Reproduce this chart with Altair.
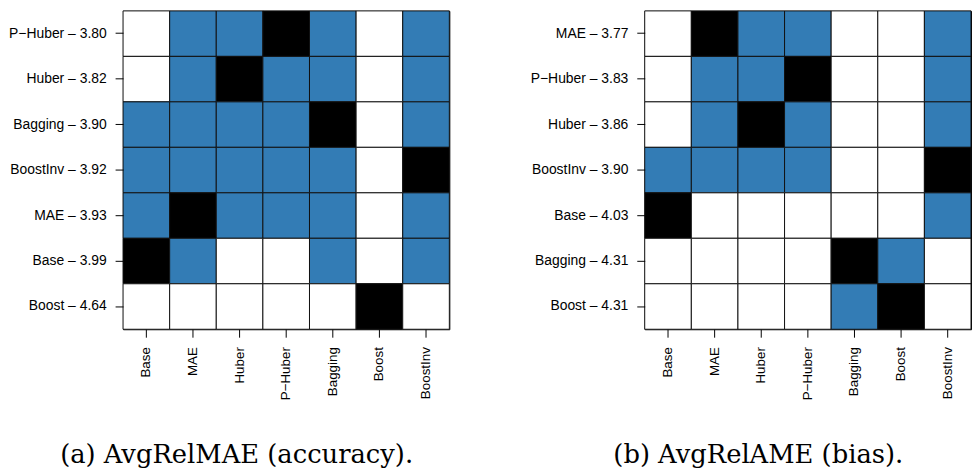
import altair as alt
import pandas as pd

# Column methods (x axis)
methods = ["Base", "MAE", "Huber", "P\u2212Huber", "Bagging", "Boost", "BoostInv"]

# Panel (a): AvgRelMAE (accuracy) - rows top to bottom
a_rows = ["P\u2212Huber", "Huber", "Bagging", "BoostInv", "MAE", "Base", "Boost"]
a_scores = ["3.80", "3.82", "3.90", "3.92", "3.93", "3.99", "4.64"]
# W = not different, B = significantly better, K = itself
a_grid = [
    "WBBKBWB",
    "WBKBBWB",
    "BBBBKWB",
    "BBBBBWK",
    "BKBBBWB",
    "KBWWBWB",
    "WWWWWKW",
]

# Panel (b): AvgRelAME (bias)
b_rows = ["MAE", "P\u2212Huber", "Huber", "BoostInv", "Base", "Bagging", "Boost"]
b_scores = ["3.77", "3.83", "3.86", "3.90", "4.03", "4.31", "4.31"]
b_grid = [
    "WKBBWWB",
    "WBBKWWB",
    "WBKBWWB",
    "BBBBWWK",
    "KWWWWWB",
    "WWWWKBW",
    "WWWWBKW",
]

captions = ["(a) AvgRelMAE (accuracy).", "(b) AvgRelAME (bias)."]

code_names = {"W": "none", "B": "better", "K": "self"}
state_domain = ["none", "better", "self"]
state_colors = ["white", "#337CB5", "black"]


def panel(rows, scores, grid, caption):
    labels = [f"{r} \u2013 {s}" for r, s in zip(rows, scores)]
    recs = []
    for lab, line in zip(labels, grid):
        for m, c in zip(methods, line):
            recs.append({"row": lab, "method": m, "state": code_names[c]})
    df = pd.DataFrame(recs)
    return (
        alt.Chart(df)
        .mark_rect(stroke="#111111", strokeWidth=1)
        .encode(
            x=alt.X(
                "method:N",
                sort=methods,
                title=None,
                scale=alt.Scale(paddingInner=0, paddingOuter=0),
                axis=alt.Axis(
                    labelAngle=270,
                    labelFontSize=13.5,
                    labelPadding=9.5,
                    tickSize=8,
                    domain=False,
                ),
            ),
            y=alt.Y(
                "row:N",
                sort=labels,
                title=None,
                scale=alt.Scale(paddingInner=0, paddingOuter=0),
                axis=alt.Axis(
                    labelFontSize=14,
                    labelPadding=9,
                    tickSize=8,
                    domain=False,
                    labelLimit=300,
                ),
            ),
            color=alt.Color(
                "state:N",
                scale=alt.Scale(domain=state_domain, range=state_colors),
                legend=None,
            ),
        )
        .properties(
            width=329,
            height=321,
            title=alt.TitleParams(
                text=caption,
                orient="bottom",
                anchor="middle",
                frame="group",
                dx=-50,
                offset=64,
                baseline="alphabetic",
                font="DejaVu Serif",
                fontSize=26,
                fontWeight="normal",
                color="black",
            ),
        )
    )


chart_a = panel(a_rows, a_scores, a_grid, captions[0])
chart_b = panel(b_rows, b_scores, b_grid, captions[1])

chart = (
    alt.hconcat(chart_a, chart_b, spacing=197, bounds="flush")
    .resolve_scale(x="independent", y="independent")
    .properties(padding=0)
    .configure_view(stroke="black", strokeWidth=1)
    .configure_axis(
        labelFont="Liberation Sans",
        labelColor="black",
        tickColor="black",
        tickWidth=1,
        grid=False,
    )
)

chart.save("out.html", embed_options={"renderer": "svg", "actions": False})
